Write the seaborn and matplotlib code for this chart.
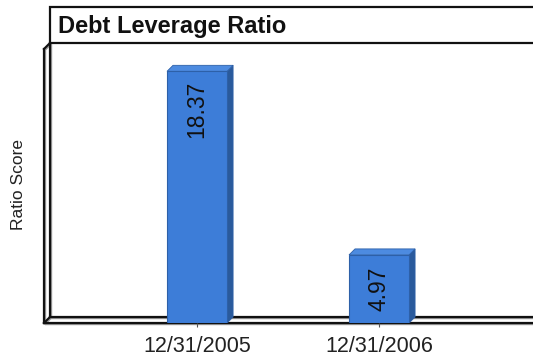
import matplotlib
matplotlib.use("Agg")
import matplotlib.pyplot as plt
from matplotlib.lines import Line2D
from matplotlib.patches import Polygon, Rectangle
from matplotlib.transforms import IdentityTransform
import pandas as pd
import seaborn as sns

# Chart data
periods = ["12/31/2005", "12/31/2006"]
ratios = [18.37, 4.97]
title = "Debt Leverage Ratio"
y_label = "Ratio Score"

sns.set_style("white")
plt.rcParams["font.family"] = ["Liberation Sans", "DejaVu Sans"]

W, H = 533, 356
fig = plt.figure(figsize=(W / 100, H / 100), dpi=100)
fig.patch.set_facecolor("white")

# front plane of the 3-D box (pixel units, origin top-left)
FX0, FY_TOP, FY_BOT = 44, 49, 323
DEPTH = 6

ax = fig.add_axes([FX0 / W, (H - FY_BOT) / H, (W - FX0) / W, (FY_BOT - FY_TOP) / H])
ax.patch.set_alpha(0)

df = pd.DataFrame({"period": periods, "ratio": ratios})
front = "#3D7DD8"
side = "#2A5A9C"
top = "#4D8BE0"
edge = "#2D60A8"
sns.barplot(data=df, x="period", y="ratio", ax=ax, color=front, saturation=1,
            width=0.33, edgecolor=edge, linewidth=0.8, zorder=3)

ax.set_xlim(-0.841, 1.846)
ax.set_ylim(0, 20)
for s in ax.spines.values():
    s.set_visible(False)
ax.set_yticks([])
ax.set_xlabel("")
ax.set_ylabel("")
ax.tick_params(axis="x", direction="out", length=3, width=0.8, color="#555555",
               pad=6, labelsize=15.5, labelcolor="#222222", bottom=True)

fig.canvas.draw()
to_disp = ax.transData
to_data = ax.transData.inverted()

def shift(pt, dx, dy):
    px, py = to_disp.transform(pt)
    return tuple(to_data.transform((px + dx, py + dy)))

# depth faces and value labels for every bar
for bar, val in zip(list(ax.patches), ratios):
    x0, w, h = bar.get_x(), bar.get_width(), bar.get_height()
    x1 = x0 + w
    side_pts = [(x1, 0), (x1, h), shift((x1, h), DEPTH, DEPTH), shift((x1, 0), DEPTH, DEPTH)]
    top_pts = [(x0, h), (x1, h), shift((x1, h), DEPTH, DEPTH), shift((x0, h), DEPTH, DEPTH)]
    ax.add_patch(Polygon(side_pts, closed=True, facecolor=side, edgecolor=edge,
                         linewidth=0.6, zorder=2))
    ax.add_patch(Polygon(top_pts, closed=True, facecolor=top, edgecolor=edge,
                         linewidth=0.6, zorder=2))
    bar_px = to_disp.transform((0, h))[1] - to_disp.transform((0, 0))[1]
    cx = x0 + w / 2
    if bar_px > 120:
        ty = shift((cx, h), 0, -9)[1]
        ax.text(cx, ty, f"{val:.2f}", rotation=90, ha="center", va="top",
                fontsize=16.5, color="#111111", zorder=5)
    else:
        ax.text(cx, h / 2, f"{val:.2f}", rotation=90, ha="center", va="center",
                fontsize=16.5, color="#111111", zorder=5)

# box frame: left wall, floor and title panel drawn in pixel space
def P(x, y):
    return (x, H - y)

def seg(p, q, lw=1.6, color="#111111"):
    (x1, y1), (x2, y2) = P(*p), P(*q)
    # soft grey shadow beside each frame line
    fig.add_artist(Line2D([x1 + 1.2, x2 + 1.2], [y1 - 1.2, y2 - 1.2],
                          transform=IdentityTransform(), color="#9a9a9a",
                          linewidth=1.0, zorder=-2))
    fig.add_artist(Line2D([x1, x2], [y1, y2], transform=IdentityTransform(),
                          color=color, linewidth=lw, zorder=-1,
                          solid_capstyle="projecting"))

BX0 = FX0 + DEPTH
seg((FX0, FY_TOP), (FX0, FY_BOT))
seg((BX0, FY_TOP - DEPTH), (BX0, FY_BOT - DEPTH))
seg((FX0, FY_TOP), (BX0, FY_TOP - DEPTH))
seg((FX0, FY_BOT), (BX0, FY_BOT - DEPTH))
seg((FX0, FY_BOT), (W + 5, FY_BOT))
seg((BX0, FY_BOT - DEPTH), (W + 5, FY_BOT - DEPTH))

fig.add_artist(Rectangle(P(BX0, FY_TOP - DEPTH), W + 10 - BX0, FY_TOP - DEPTH - 7,
                         transform=IdentityTransform(), facecolor="white",
                         edgecolor="#111111", linewidth=1.6, zorder=-1))
fig.text(58 / W, 1 - 32.5 / H, title, fontsize=17, fontweight="bold",
         ha="left", va="baseline", color="#111111")

fig.text(19 / W, 1 - 185 / H, y_label, rotation=90, ha="center", va="center",
         fontsize=12.5, color="#222222")

fig.savefig("out.png", dpi=100, facecolor="white")
